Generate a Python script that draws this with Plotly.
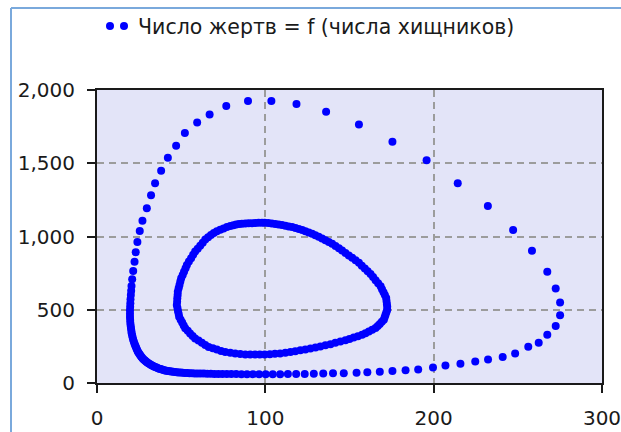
import plotly.graph_objects as go

# ---- data (predators on x, prey on y) ----
outer_predators = [
    20.1, 20.3, 20.5, 20.9, 21.5, 22.3, 23.0, 24.0, 25.4, 27.0, 29.6, 32.1, 34.5, 38.1, 42.1,
    47.0, 52.2, 59.5, 66.9, 76.8, 89.7, 103.6, 118.5, 136.1, 155.6, 175.5, 195.8, 214.3, 232.2,
    247.2, 258.4, 267.5, 272.5, 275.1, 275.1, 272.5, 267.5, 262.4, 256.2, 248.4, 241.0, 232.3,
    224.7, 215.9, 207.0, 199.6, 190.8, 183.3, 175.5, 168.0, 160.6, 154.2, 146.6, 140.2, 134.4,
    128.8, 123.4, 118.3, 113.4, 108.8, 104.4, 100.2, 96.3, 92.6, 89.1, 85.8, 82.7, 79.8, 77.1,
    74.5, 72.1, 69.8, 67.6, 65.5, 63.5, 61.6, 59.8, 58.1, 56.5, 55.0, 53.6, 52.2, 50.9, 49.7,
    48.5, 47.4, 46.3, 45.2, 44.2, 43.2, 42.2, 41.3, 40.4, 39.5, 38.6, 37.8, 37.0, 36.2, 35.4,
    34.6, 33.8, 33.1, 32.4, 31.7, 31.0, 30.3, 29.7, 29.1, 28.5, 27.9, 27.3, 26.8, 26.3, 25.8,
    25.3, 24.8, 24.3, 23.9, 23.5, 23.1, 22.7, 22.3, 21.9, 21.5, 21.2, 20.9, 20.6, 20.4, 20.2,
    20.0, 19.8, 19.7, 19.6, 19.6, 19.6, 19.7, 19.8, 19.9,
]
outer_prey = [
    600, 630, 662, 708, 764, 828, 893, 963, 1037, 1107, 1192, 1281, 1364, 1448, 1538,
    1620, 1706, 1778, 1833, 1891, 1925, 1925, 1905, 1851, 1765, 1647, 1520, 1364, 1208,
    1045, 903, 760, 645, 550, 462, 389, 330, 274, 247, 202, 177, 160,
    146, 132, 119, 106, 93, 87, 82, 77, 73, 70, 67, 66, 64,
    63, 62, 61, 61, 60, 60, 60, 60, 60, 60, 60, 61, 61, 61,
    62, 62, 62, 63, 63, 64, 64, 65, 65, 66, 67, 68, 69, 70, 71,
    72, 73, 75, 76, 78, 80, 82, 84, 86, 89, 92, 95, 98, 101, 105,
    109, 113, 117, 121, 126, 131, 136, 141, 147, 153, 159, 166, 173, 180, 188,
    196, 205, 214, 224, 234, 245, 256, 268, 281, 295, 309, 324, 340, 356, 373,
    391, 410, 430, 451, 473, 496, 520, 545, 572,
]

inner_predators = [
    64.3, 66.0, 67.7, 69.4, 71.2, 73.2, 75.2, 77.2, 79.2, 81.0, 82.7, 84.4, 86.1, 88.1, 90.1,
    92.1, 94.0, 96.0, 98.0, 99.6, 101.7, 103.8, 105.9, 107.9, 109.9, 111.9, 113.9, 115.9, 117.9,
    119.9, 121.9, 123.8, 125.8, 127.8, 129.7, 131.7, 133.7, 135.7, 137.7, 139.7, 141.7, 143.7,
    145.6, 147.6, 149.6, 151.6, 153.6, 155.6, 157.3, 159.1, 160.8, 162.5, 164.0, 165.5, 167.0,
    168.5, 169.3, 170.2, 171.0, 171.8, 172.0, 172.2, 172.4, 172.4, 171.9, 171.4, 170.9, 170.4,
    169.2, 168.0, 166.8, 165.5, 163.5, 161.5, 159.5, 157.5, 155.0, 152.5, 150.0, 147.6, 144.6,
    141.6, 138.7, 135.7, 132.7, 129.8, 126.8, 123.8, 120.8, 117.8, 114.9, 111.9, 108.8, 105.7,
    102.7, 99.6, 96.7, 93.9, 91.0, 88.1, 85.1, 82.1, 79.2, 76.2, 73.7, 71.2, 68.8, 66.3, 64.3,
    62.3, 60.3, 58.3, 56.8, 55.3, 53.9, 52.4, 51.5, 50.6, 49.7, 48.8, 48.5, 48.1, 47.8, 47.4,
    47.6, 47.7, 47.9, 48.0, 48.5, 49.0, 49.5, 50.0, 50.9, 51.7, 52.6, 53.4, 54.6, 55.9, 57.1,
    58.3, 59.8, 61.3, 62.8,
]
inner_prey = [
    979, 995, 1010, 1024, 1036, 1046, 1055, 1064, 1071, 1077, 1082, 1085, 1087, 1089, 1090,
    1091, 1093, 1094, 1094, 1094, 1092, 1089, 1086, 1082, 1078, 1074, 1069, 1064, 1058,
    1051, 1044, 1036, 1027, 1018, 1008, 998, 987, 975, 963, 950, 935, 920,
    904, 888, 871, 855, 838, 820, 801, 782, 763, 744, 723, 702, 681,
    660, 640, 620, 600, 580, 560, 540, 520, 500, 483, 466, 449, 432,
    418, 403, 389, 375, 363, 352, 340, 329, 319, 310, 301, 292, 283,
    274, 265, 257, 249, 242, 236, 229, 223, 217, 211, 206, 202, 199,
    197, 195, 195, 195, 195, 195, 198, 202, 207, 211, 219, 228, 237, 246, 260,
    275, 290, 304, 321, 338, 356, 373, 393, 413, 432, 452, 472, 492, 512, 532,
    555, 578, 600, 623, 646, 669, 692, 715, 738, 760, 783, 806, 829, 852, 875,
    897, 917, 937, 957,
]

x_ticks = [0, 100, 200, 300]
y_ticks = [0, 500, 1000, 1500, 2000]
series_name = "Число жертв = f (числа хищников)"

FONT = "DejaVu Sans"
BLUE = "#0000FF"

fig = go.Figure()
fig.add_trace(go.Scatter(
    x=outer_predators + inner_predators,
    y=outer_prey + inner_prey,
    mode="markers",
    name=series_name,
    showlegend=False,
    marker=dict(color=BLUE, size=8, line=dict(width=0)),
))

L, R, T, B = 97, 19, 90, 49
W, H = 621, 432
pw, ph = W - L - R, H - T - B


def px_x(px):
    return (px - L) / pw


def px_y(py):
    return (H - B - py) / ph


axis_common = dict(
    showline=True, linecolor="#1a1a1a", linewidth=2, mirror=True,
    ticks="outside", ticklen=8, tickwidth=1.5, tickcolor="#1a1a1a",
    showgrid=True, gridcolor="#9c9c9c", gridwidth=1.5, griddash="7px,5px",
    zeroline=False, automargin=False, ticklabeloverflow="allow",
    tickfont=dict(family=FONT, size=20, color="#1a1a1a"),
)

fig.update_layout(
    width=W, height=H, autosize=False,
    margin=dict(l=L, r=R, t=T, b=B, pad=0),
    paper_bgcolor="white",
    plot_bgcolor="#E3E4F8",
    font=dict(family=FONT, size=20, color="#1a1a1a"),
    separators=".,",
    showlegend=False,
    xaxis=dict(range=[0, 300], tickvals=x_ticks, ticklabelstandoff=8, **axis_common),
    yaxis=dict(range=[0, 2000], tickvals=y_ticks, tickformat=",d", ticklabelstandoff=8, **axis_common),
)

# legend (two dots + text), drawn above the plot
for cx in (110, 124):
    fig.add_shape(type="circle", xref="paper", yref="paper",
                  xsizemode="pixel", ysizemode="pixel",
                  xanchor=px_x(cx), yanchor=px_y(26),
                  x0=-4, x1=4, y0=-4, y1=4,
                  fillcolor=BLUE, line=dict(width=0))
fig.add_annotation(xref="paper", yref="paper", x=px_x(136), y=px_y(27),
                   xanchor="left", yanchor="middle", showarrow=False,
                   text=series_name, font=dict(family=FONT, size=20.5, color="#1a1a1a"))

# outer frame (left and top edges)
frame_col = "#7AA9DC"
fig.add_shape(type="line", xref="paper", yref="paper",
              x0=px_x(11), x1=px_x(11), y0=px_y(440), y1=px_y(8),
              line=dict(color=frame_col, width=2))
fig.add_shape(type="line", xref="paper", yref="paper",
              x0=px_x(11), x1=px_x(630), y0=px_y(8), y1=px_y(8),
              line=dict(color=frame_col, width=2))

fig.write_html("out.html", config={"displayModeBar": False},
               post_script="document.body.style.margin='0';")
